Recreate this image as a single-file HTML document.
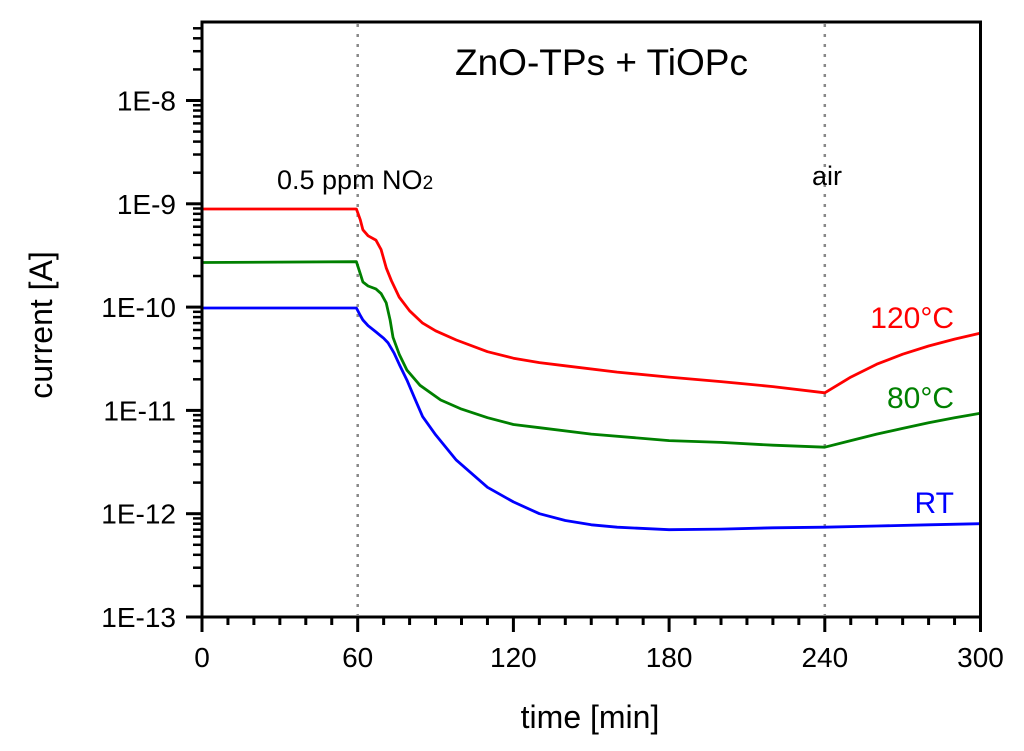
<!DOCTYPE html>
<html><head><meta charset="utf-8"><style>
body{margin:0;background:#fff}
svg{display:block;font-family:"Liberation Sans",Arial,sans-serif}
</style></head><body>
<svg id="chart" width="1024" height="751">
<g id="grid"></g>
<g id="series"></g>
<rect x="202" y="22" width="778.5" height="595" fill="none" stroke="#000" stroke-width="3"/>
<g id="axes"></g>
<text x="455" y="75" font-size="37">ZnO-TPs + TiOPc</text>
<text x="277" y="189" font-size="27">0.5 ppm NO<tspan font-size="19">2</tspan></text>
<text x="827" y="185" font-size="27" text-anchor="middle">air</text>
<text x="954" y="328" font-size="30" fill="#ff0000" text-anchor="end">120°C</text>
<text x="954" y="408" font-size="30" fill="#008000" text-anchor="end">80°C</text>
<text x="954" y="513" font-size="30" fill="#0000ff" text-anchor="end">RT</text>
<text x="590" y="728" font-size="32" text-anchor="middle">time [min]</text>
<text transform="translate(52,325) rotate(-90)" font-size="32" text-anchor="middle">current [A]</text>
</svg>
<script>
const xTicks=[0,60,120,180,240,300];
const yTickExps=[-13,-12,-11,-10,-9,-8];
const yTickLabels=["1E-13","1E-12","1E-11","1E-10","1E-9","1E-8"];
const markerTimes=[60,240];
const tRed=[0,59.5,61,62,64,67,69,71,73,76,80,85,90,98,110,120,130,140,160,180,200,220,240,250,260,270,280,290,300];
const vRed=[8.9e-10,8.9e-10,7e-10,5.6e-10,4.9e-10,4.45e-10,3.6e-10,2.4e-10,1.8e-10,1.25e-10,9.2e-11,7e-11,5.9e-11,4.8e-11,3.7e-11,3.2e-11,2.9e-11,2.7e-11,2.35e-11,2.1e-11,1.9e-11,1.7e-11,1.48e-11,2.1e-11,2.8e-11,3.5e-11,4.2e-11,4.9e-11,5.6e-11];
const tGreen=[0,59.5,61,62,64,67,69,71,72.5,73.6,76,79,84,92,100,110,120,130,150,180,200,220,240,250,260,270,280,290,300];
const vGreen=[2.7e-10,2.75e-10,2.1e-10,1.75e-10,1.6e-10,1.5e-10,1.35e-10,1.1e-10,7.5e-11,5.1e-11,3.5e-11,2.45e-11,1.75e-11,1.26e-11,1.03e-11,8.5e-12,7.3e-12,6.8e-12,5.9e-12,5.1e-12,4.9e-12,4.6e-12,4.4e-12,5.1e-12,5.9e-12,6.7e-12,7.6e-12,8.5e-12,9.4e-12];
const tBlue=[0,59.5,61,62,64,67,70,71.7,74,76,79,82,85,90,98,110,120,130,140,150,160,180,200,220,240,260,280,300];
const vBlue=[9.8e-11,9.8e-11,8.3e-11,7.5e-11,6.6e-11,5.75e-11,5e-11,4.5e-11,3.6e-11,2.8e-11,1.96e-11,1.3e-11,8.7e-12,5.8e-12,3.3e-12,1.8e-12,1.3e-12,1e-12,8.6e-13,7.8e-13,7.4e-13,7e-13,7.1e-13,7.3e-13,7.4e-13,7.6e-13,7.8e-13,8e-13];
const X=t=>202+t*(778.5/300);
const Y=v=>617-103.3*(Math.log10(v)+13);
const NS="http://www.w3.org/2000/svg";
function mk(tag,parent,attrs){const e=document.createElementNS(NS,tag);for(const k in attrs)e.setAttribute(k,attrs[k]);parent.appendChild(e);return e;}
const grid=document.getElementById('grid'),axes=document.getElementById('axes'),ser=document.getElementById('series');
markerTimes.forEach(t=>{const l=mk('line',grid,{x1:X(t),x2:X(t),y1:24,y2:615,stroke:'#888','stroke-width':2.5,'stroke-dasharray':'3 7'});

});
function line(ts,vs,color,name){const d=ts.map((t,i)=>(i?'L':'M')+X(t).toFixed(1)+','+Y(vs[i]).toFixed(1)).join('');
const p=mk('path',ser,{d:d,fill:'none',stroke:color,'stroke-width':2.8,'stroke-linejoin':'round'});

}
line(tRed,vRed,'#ff0000','series-120c');
line(tGreen,vGreen,'#008000','series-80c');
line(tBlue,vBlue,'#0000ff','series-rt');
for(let t=0;t<=300;t+=10){const major=xTicks.includes(t);mk('line',axes,{x1:X(t),x2:X(t),y1:617,y2:major?632:625,stroke:'#000','stroke-width':3});}
xTicks.forEach(t=>{const tx=mk('text',axes,{x:X(t),y:667,'font-size':28,'text-anchor':'middle'});tx.textContent=t;

});
yTickExps.forEach((e,i)=>{const y=617-103.3*(e+13);mk('line',axes,{x1:186,x2:202,y1:y,y2:y,stroke:'#000','stroke-width':3});
const tx=mk('text',axes,{x:176,y:y+10,'font-size':28,'text-anchor':'end'});tx.textContent=yTickLabels[i];


for(let m=2;m<=9;m++){const v=Math.pow(10,e)*m;const ym=Y(v);if(ym<23)continue;mk('line',axes,{x1:193,x2:202,y1:ym,y2:ym,stroke:'#000','stroke-width':2.5});}});
</script>
</body></html>
